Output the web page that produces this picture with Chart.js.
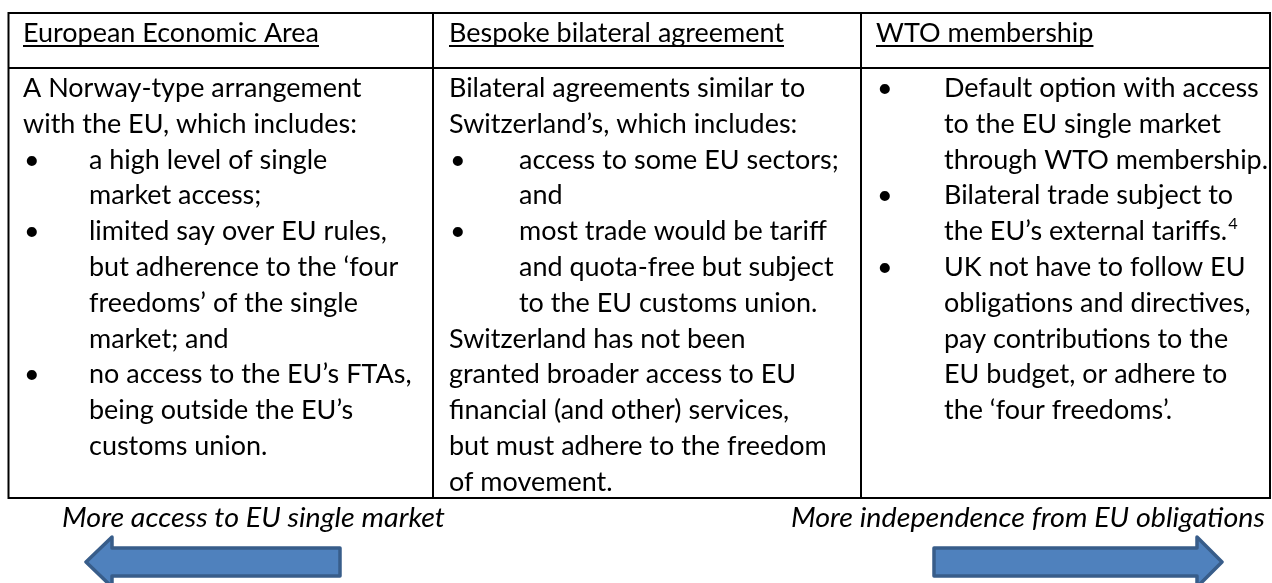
<!DOCTYPE html>
<html>
<head>
<meta charset="utf-8">
<script src="https://cdn.jsdelivr.net/npm/chart.js@4.4.0/dist/chart.umd.min.js"></script>
<style>
  html, body { margin: 0; padding: 0; background: #fff; }
  #wrap { width: 1272px; height: 583px; }
</style>
</head>
<body>
<div id="wrap"><canvas id="optionsTable" width="1272" height="583"></canvas></div>
<script>
// Column headings
const headers = ['European Economic Area', 'Bespoke bilateral agreement', 'WTO membership'];

// Cell lines per column: [bullet?, indented?, text, superscript]
const eeaLines = [
    [0, 0, 'A Norway-type arrangement'],
    [0, 0, 'with the EU, which includes:'],
    [1, 1, 'a high level of single'],
    [0, 1, 'market access;'],
    [1, 1, 'limited say over EU rules,'],
    [0, 1, 'but adherence to the \u2018four'],
    [0, 1, 'freedoms\u2019 of the single'],
    [0, 1, 'market; and'],
    [1, 1, 'no access to the EU\u2019s FTAs,'],
    [0, 1, 'being outside the EU\u2019s'],
    [0, 1, 'customs union.']
];
const bilateralLines = [
    [0, 0, 'Bilateral agreements similar to'],
    [0, 0, 'Switzerland\u2019s, which includes:'],
    [1, 1, 'access to some EU sectors;'],
    [0, 1, 'and'],
    [1, 1, 'most trade would be tariff'],
    [0, 1, 'and quota-free but subject'],
    [0, 1, 'to the EU customs union.'],
    [0, 0, 'Switzerland has not been'],
    [0, 0, 'granted broader access to EU'],
    [0, 0, 'financial (and other) services,'],
    [0, 0, 'but must adhere to the freedom'],
    [0, 0, 'of movement.']
];
const wtoLines = [
    [1, 1, 'Default option with access'],
    [0, 1, 'to the EU single market'],
    [0, 1, 'through WTO membership.'],
    [1, 1, 'Bilateral trade subject to'],
    [0, 1, 'the EU\u2019s external tariffs.', '4'],
    [1, 1, 'UK not have to follow EU'],
    [0, 1, 'obligations and directives,'],
    [0, 1, 'pay contributions to the'],
    [0, 1, 'EU budget, or adhere to'],
    [0, 1, 'the \u2018four freedoms\u2019.']
];
const cellLines = [eeaLines, bilateralLines, wtoLines];

// Direction captions under the table
const arrowLabels = ['More access to EU single market', 'More independence from EU obligations'];

document.addEventListener('DOMContentLoaded', () => {
    const W = 1272, H = 583;
    const FONT = '"Lato", "Open Sans", sans-serif';
    const SIZE = 26.5;
    const LINE = 35.8;

    // table geometry (page units, mapped through the scales)
    const colEdges = [8.5, 433, 861, 1270];
    const textX = [23, 449, 876];
    const bulletTextX = [89, 519, 944];
    const tableTop = 13, headSep = 68, tableBottom = 498;

    const tablePlugin = {
        id: 'tablePlugin',
        afterDraw(chart) {
            const ctx = chart.ctx;
            const xs = chart.scales.x, ys = chart.scales.y;
            const px = v => xs.getPixelForValue(v);
            const py = v => ys.getPixelForValue(v);

            ctx.save();
            ctx.fillStyle = '#000';
            ctx.textBaseline = 'alphabetic';

            // squeeze to Calibri-like width
            ctx.font = SIZE + 'px ' + FONT;
            const sx = 296 / ctx.measureText(headers[0]).width;
            ctx.font = 'italic ' + SIZE + 'px ' + FONT;
            const sxi = 383 / ctx.measureText(arrowLabels[0]).width;

            const drawText = (txt, x, y, scale) => {
                ctx.save();
                ctx.translate(px(x), py(y));
                ctx.scale(scale, 1);
                ctx.fillText(txt, 0, 0);
                const w = ctx.measureText(txt).width * scale;
                ctx.restore();
                return w;
            };

            // headers, underlined
            ctx.font = SIZE + 'px ' + FONT;
            headers.forEach((h, i) => {
                const w = drawText(h, textX[i], 42, sx);
                ctx.fillRect(px(textX[i]), py(45), w, 2);
            });

            // body lines
            cellLines.forEach((lines, c) => {
                lines.forEach((ln, r) => {
                    const base = 97 + r * LINE;
                    ctx.font = SIZE + 'px ' + FONT;
                    if (ln[0]) drawText('\u2022', textX[c] + 1, base, sx);
                    const x = ln[1] ? bulletTextX[c] : textX[c];
                    const w = drawText(ln[2], x, base, sx);
                    if (ln[3]) {
                        ctx.font = '16px ' + FONT;
                        drawText(ln[3], x + w + 1, base - 11, sx);
                    }
                });
            });

            // grid
            ctx.strokeStyle = '#000';
            ctx.lineWidth = 2;
            ctx.beginPath();
            [tableTop, headSep, tableBottom].forEach(y => {
                ctx.moveTo(px(colEdges[0] - 1), py(y));
                ctx.lineTo(px(colEdges[3] + 1), py(y));
            });
            colEdges.forEach(x => {
                ctx.moveTo(px(x), py(tableTop));
                ctx.lineTo(px(x), py(tableBottom));
            });
            ctx.stroke();

            // captions
            ctx.font = 'italic ' + SIZE + 'px ' + FONT;
            drawText(arrowLabels[0], 62, 527, sxi);
            const w2 = ctx.measureText(arrowLabels[1]).width * sxi;
            drawText(arrowLabels[1], 1265 - w2, 527, sxi);

            // block arrows
            const arrow = (tail, tip, headBack, cy) => {
                ctx.beginPath();
                ctx.moveTo(px(tail), py(cy - 14));
                ctx.lineTo(px(headBack), py(cy - 14));
                ctx.lineTo(px(headBack), py(cy - 25));
                ctx.lineTo(px(tip), py(cy));
                ctx.lineTo(px(headBack), py(cy + 25));
                ctx.lineTo(px(headBack), py(cy + 14));
                ctx.lineTo(px(tail), py(cy + 14));
                ctx.closePath();
                ctx.fillStyle = '#4f81bd';
                ctx.fill();
                ctx.lineJoin = 'round';
                ctx.lineWidth = 3.5;
                ctx.strokeStyle = '#385d8a';
                ctx.stroke();
            };
            arrow(340, 86, 112, 562);
            arrow(934, 1222, 1197, 562);

            ctx.restore();
        }
    };

    new Chart(document.getElementById('optionsTable'), {
        type: 'scatter',
        data: { datasets: [{ data: [], pointRadius: 0 }] },
        options: {
            responsive: false,
            animation: false,
            layout: { padding: 0 },
            plugins: { legend: { display: false }, tooltip: { enabled: false } },
            scales: {
                x: { type: 'linear', min: 0, max: W, display: false },
                y: { type: 'linear', min: 0, max: H, reverse: true, display: false }
            }
        },
        plugins: [tablePlugin]
    });
});
</script>
</body>
</html>
